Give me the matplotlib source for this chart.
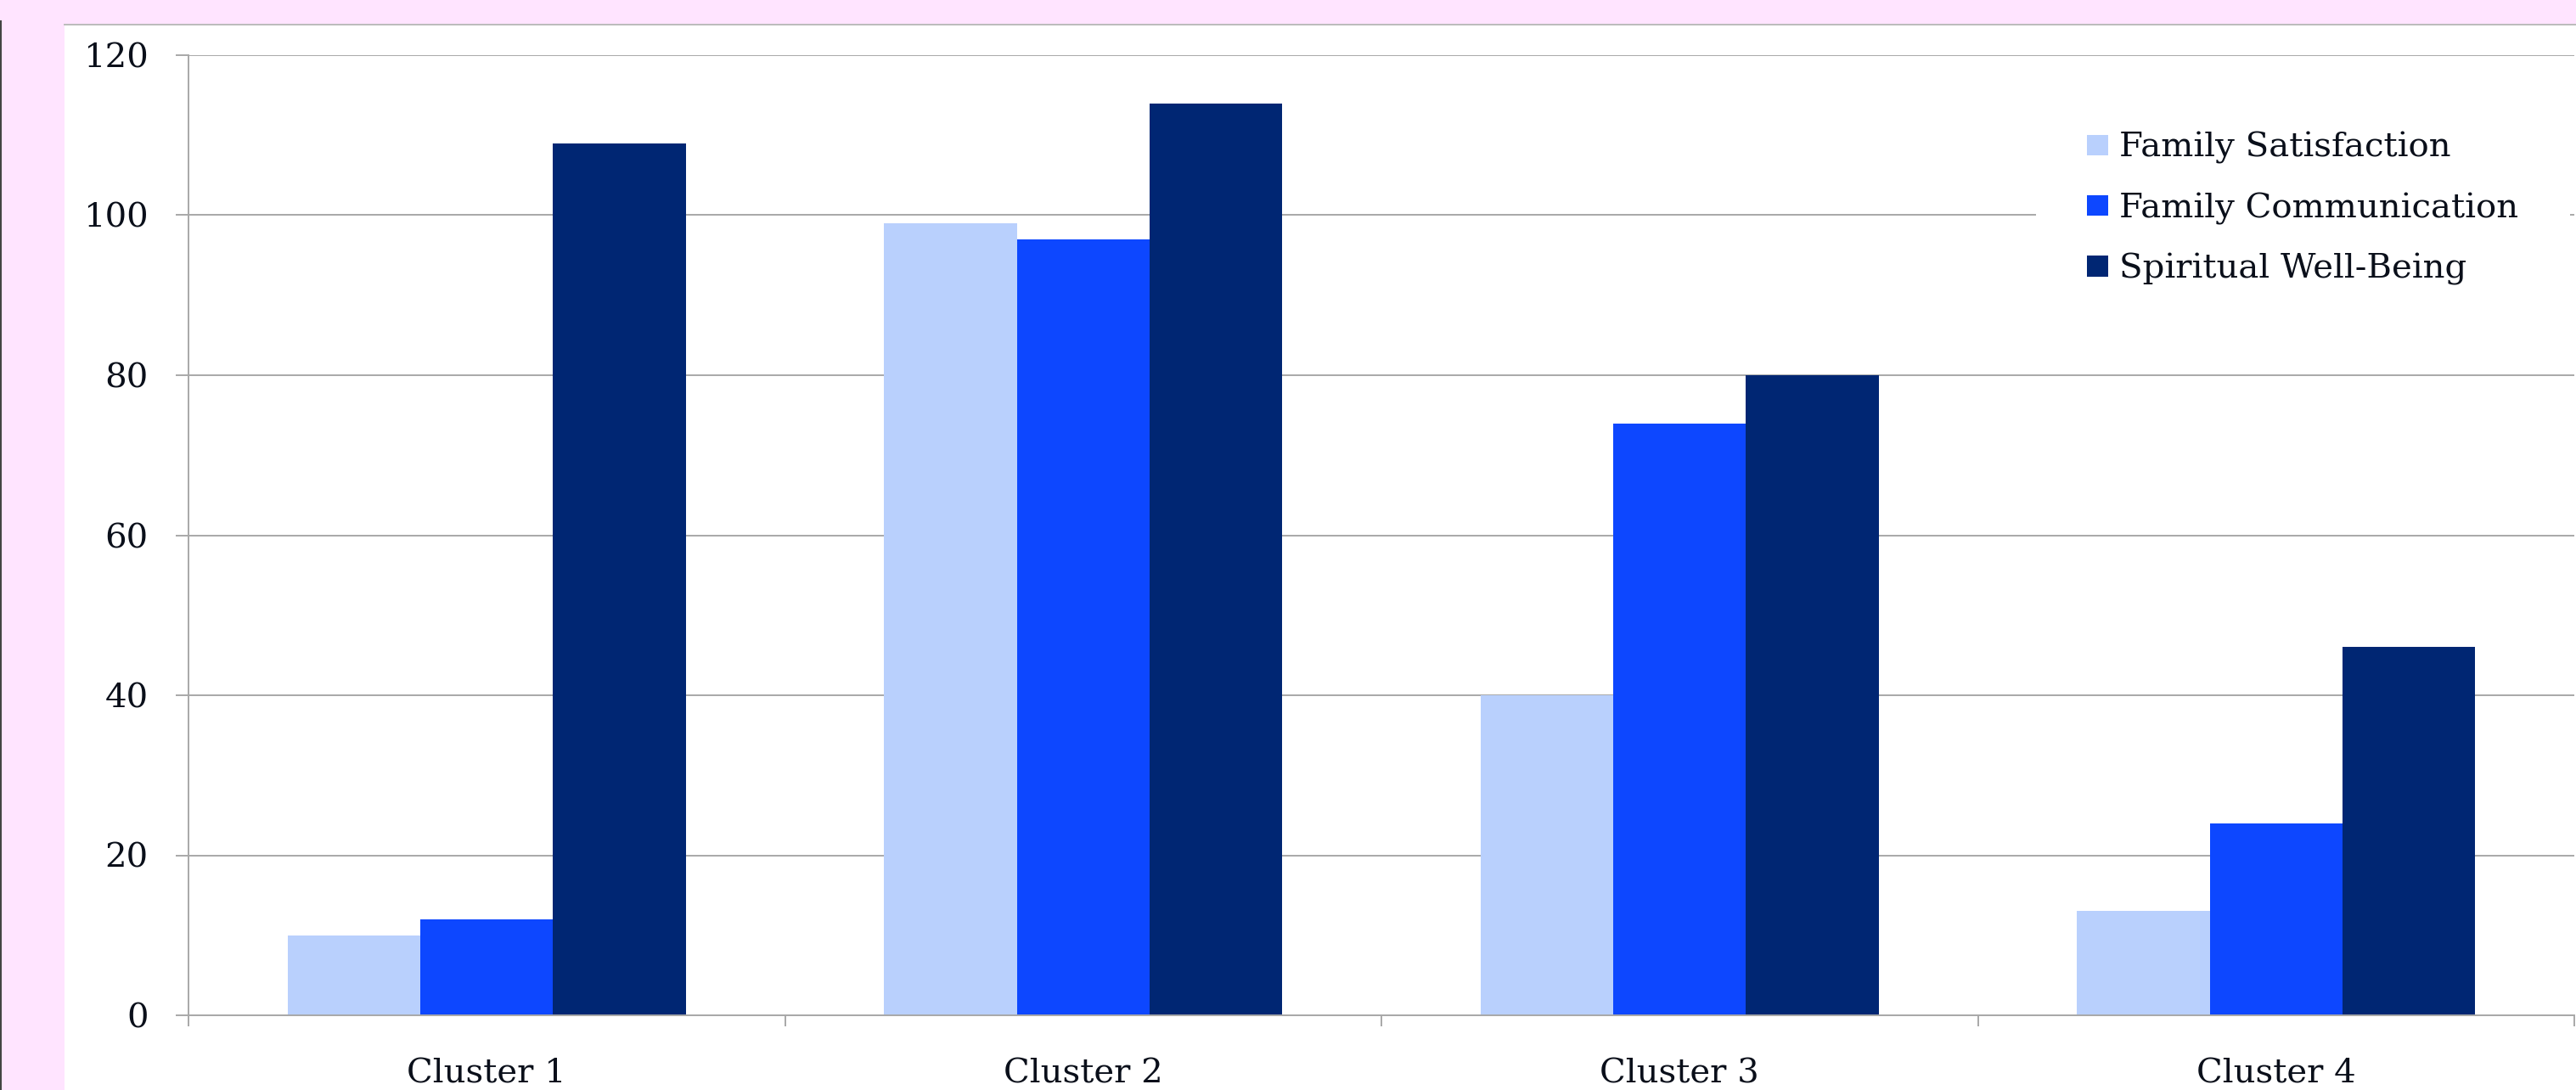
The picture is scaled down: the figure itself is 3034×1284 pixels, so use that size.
import numpy as np
import matplotlib.pyplot as plt
from matplotlib.patches import Rectangle
from matplotlib.lines import Line2D

# === Data ===
clusters = ["Cluster 1", "Cluster 2", "Cluster 3", "Cluster 4"]
series_names = ["Family Satisfaction", "Family Communication", "Spiritual Well-Being"]
family_satisfaction = [10, 99, 40, 13]
family_communication = [12, 97, 74, 24]
spiritual_well_being = [109, 114, 80, 46]
y_ticks = [0, 20, 40, 60, 80, 100, 120]

colors = ["#B9D0FD", "#0D47FF", "#002673"]
text_color = "#0A0F1A"
grid_color = "#A8A8A8"

W, H = 3034, 1284
fig = plt.figure(figsize=(W / 100, H / 100), dpi=100, facecolor="#FFE4FF")

# white panel with thin border line on top
fig.patches.append(Rectangle((76 / W, 0), 1 - 76 / W, 1 - 29 / H, transform=fig.transFigure,
                             facecolor="white", edgecolor="none", zorder=-10))
fig.lines.append(Line2D([76 / W, 1], [1 - 29 / H, 1 - 29 / H], transform=fig.transFigure,
                        color="#BBBBBB", lw=1.4, zorder=-5))
fig.lines.append(Line2D([0.0004, 0.0004], [0, 1 - 25 / H], transform=fig.transFigure,
                        color="#444444", lw=1.5, zorder=-5))

ax = fig.add_axes([222 / W, 88 / H, 2810 / W, 1131 / H])
ax.set_facecolor("none")

x = np.arange(len(clusters))
bw = 0.2225
all_series = [family_satisfaction, family_communication, spiritual_well_being]
for i, (vals, name) in enumerate(zip(all_series, series_names)):
    ax.bar(x + (i - 1) * bw, vals, width=bw, color=colors[i], label=name, zorder=2)

ax.set_xlim(-0.5, len(clusters) - 0.5)
ax.set_ylim(0, 120)
ax.set_yticks(y_ticks)
ax.yaxis.grid(True, color=grid_color, lw=1.4)
ax.set_axisbelow(True)

font = "DejaVu Serif"
fs = 29
ax.set_yticklabels([str(v) for v in y_ticks], fontsize=fs, family=font, color=text_color)
ax.tick_params(axis="y", length=11, width=1.4, color=grid_color, pad=23)

ax.set_xticks(x)
ax.set_xticklabels(clusters, fontsize=fs, family=font, color=text_color)
ax.tick_params(axis="x", which="major", length=0, pad=36)
ax.set_xticks(np.arange(-0.5, len(clusters)), minor=True)
ax.tick_params(axis="x", which="minor", length=9, width=1.4, color=grid_color, direction="out")

for s in ["top", "right"]:
    ax.spines[s].set_visible(False)
for s in ["left", "bottom"]:
    ax.spines[s].set_color(grid_color)
    ax.spines[s].set_linewidth(1.4)

leg = ax.legend(loc="upper left", bbox_to_anchor=(2398 / W, 1 - 95 / H),
                bbox_transform=fig.transFigure, frameon=True, fancybox=False,
                prop={"family": font, "size": fs}, handlelength=0.62, handleheight=0.55,
                handletextpad=0.32, labelspacing=0.83, borderpad=1.5, borderaxespad=0)
leg.get_frame().set_facecolor("white")
leg.get_frame().set_edgecolor("none")
leg.get_frame().set_alpha(1)
for t in leg.get_texts():
    t.set_color(text_color)

fig.savefig("out.png", dpi=100, facecolor=fig.get_facecolor())
